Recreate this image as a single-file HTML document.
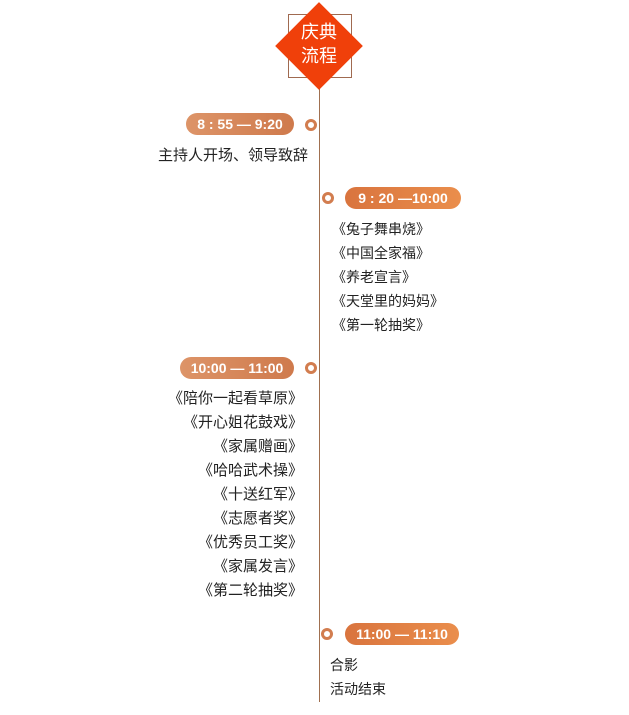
<!DOCTYPE html>
<html><head><meta charset="utf-8"><style>
body{margin:0;width:629px;height:715px;background:#fff;position:relative;overflow:hidden;font-family:"Liberation Sans","Noto Sans CJK SC",sans-serif;}
.a{position:absolute}
.line{left:319px;top:88px;width:1px;height:614px;background:#a07050}
.pill{height:22px;border-radius:11px;color:#fff;font-weight:bold;font-size:14px;line-height:22px;text-align:center;background:linear-gradient(90deg,#dd9468,#cf7a4c)}
.pr{background:linear-gradient(90deg,#d9743e,#ea8e4c)}
.dot{width:6px;height:6px;border:3px solid #d27d4f;border-radius:50%;background:#fff}
.t{font-size:14px;color:#222;line-height:24px}
.l{text-align:right;right:321px;font-size:15px}
</style></head><body>
<div class="a line"></div>
<div class="a" style="left:288px;top:14px;width:62px;height:62px;border:1px solid #a06a50"></div>
<div class="a" style="left:288px;top:15px;width:62px;height:62px;background:#f0400a;transform:rotate(45deg)"></div>
<div class="a" style="left:289px;top:20px;width:60px;text-align:center;color:#fff;font-size:18px;line-height:24px">庆典<br>流程</div>

<div class="a pill" style="left:186px;top:113px;width:108px">8 : 55 — 9:20</div>
<div class="a dot" style="left:305px;top:119px"></div>
<div class="a t l" style="top:144px">主持人开场、领导致辞</div>

<div class="a dot" style="left:322px;top:192px"></div>
<div class="a pill pr" style="left:345px;top:187px;width:116px">9 : 20 —10:00</div>
<div class="a t" style="left:332px;top:217px">《兔子舞串烧》<br>《中国全家福》<br>《养老宣言》<br>《天堂里的妈妈》<br>《第一轮抽奖》</div>

<div class="a pill" style="left:180px;top:357px;width:114px">10:00 — 11:00</div>
<div class="a dot" style="left:305px;top:362px"></div>
<div class="a t l" style="top:387px;right:326px">《陪你一起看草原》<br>《开心姐花鼓戏》<br>《家属赠画》<br>《哈哈武术操》<br>《十送红军》<br>《志愿者奖》<br>《优秀员工奖》<br>《家属发言》<br>《第二轮抽奖》</div>

<div class="a dot" style="left:321px;top:628px"></div>
<div class="a pill pr" style="left:345px;top:623px;width:114px">11:00 — 11:10</div>
<div class="a t" style="left:330px;top:653px">合影<br>活动结束</div>
</body></html>
